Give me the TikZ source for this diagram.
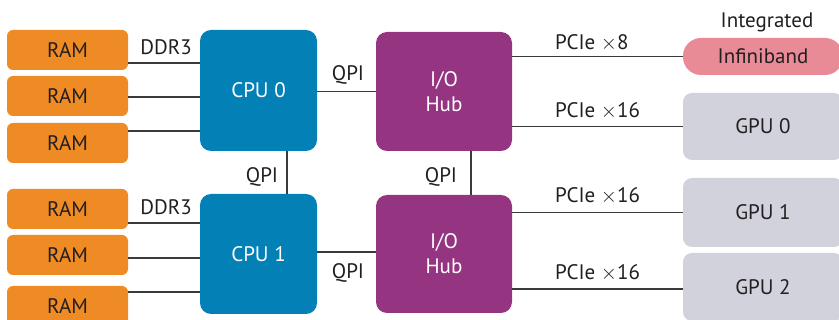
\documentclass[tikz,border=0pt]{standalone}
\usepackage{fontspec}
\setmainfont{PT Sans}
\definecolor{ramorange}{HTML}{EE8B25}
\definecolor{cpublue}{HTML}{0381B7}
\definecolor{hubpurple}{HTML}{953481}
\definecolor{ibpink}{HTML}{E98B97}
\definecolor{gpugray}{HTML}{D1D2DC}
\definecolor{textgray}{HTML}{231F20}
\definecolor{wiregray}{HTML}{3A3A3A}
\tikzset{
  box/.style={inner sep=0pt, align=center, font=\fontsize{21}{25}\selectfont},
  ram/.style={box, fill=ramorange, text=textgray, rounded corners=6pt,
    minimum width=121pt, minimum height=40pt},
  cpu/.style={box, fill=cpublue, text=white, rounded corners=11pt,
    minimum width=117pt, minimum height=121pt},
  hub/.style={box, fill=hubpurple, text=white, rounded corners=11pt,
    minimum width=136pt, minimum height=119pt},
  gpu/.style={box, fill=gpugray, text=textgray, rounded corners=9pt,
    minimum width=160pt, minimum height=68pt},
  ib/.style={box, fill=ibpink, text=textgray, rounded corners=18pt,
    minimum width=160pt, minimum height=37pt},
  wire/.style={draw=wiregray, line width=1.4pt},
  lbl/.style={inner sep=0pt, text=textgray, font=\fontsize{21}{22}\selectfont}
}
\begin{document}
\begin{tikzpicture}[x=1pt,y=-1pt]
  \useasboundingbox (0,0) rectangle (839,320);
  \clip (0,0) rectangle (839,320);

  % memory banks
  \node[ram] (ram1) at (67.5,50) {RAM};
  \node[ram] (ram2) at (67.5,96) {RAM};
  \node[ram] (ram3) at (67.5,143) {RAM};
  \node[ram] (ram4) at (67.5,209) {RAM};
  \node[ram] (ram5) at (67.5,255) {RAM};
  \node[ram] (ram6) at (67.5,306) {RAM};

  % processors and hubs
  \node[cpu] (cpu0) at (258.5,90.5) {CPU 0};
  \node[cpu, minimum height=120pt] (cpu1) at (258.5,254) {CPU 1};
  \node[hub] (hub0) at (444,91.5) {I/O\\Hub};
  \node[hub, minimum height=118pt] (hub1) at (444,254) {I/O\\Hub};

  % devices
  \node[ib] (ib) at (763,56.5) {Infiniband};
  \node[lbl] (integ) at (767,22) {Integrated};
  \node[gpu, minimum height=67pt] (gpu0) at (763,126.5) {GPU 0};
  \node[gpu, minimum height=69pt] (gpu1) at (763,212.5) {GPU 1};
  \node[gpu] (gpu2) at (763,287) {GPU 2};

  % DDR3 links
  \draw[wire] (ram1.east) ++(0,13) coordinate (m1) -- (m1 -| cpu0.west);
  \draw[wire] (ram2.east) ++(0,1) coordinate (m2) -- (m2 -| cpu0.west);
  \draw[wire] (ram3.east) ++(0,-12) coordinate (m3) -- (m3 -| cpu0.west);
  \draw[wire] (ram4.east) ++(0,14) coordinate (m4) -- (m4 -| cpu1.west);
  \draw[wire] (ram5.east) ++(0,3) coordinate (m5) -- (m5 -| cpu1.west);
  \draw[wire] (ram6.east) ++(0,-14) coordinate (m6) -- (m6 -| cpu1.west);
  \node[lbl] (ddr0) at (166,47) {DDR3};
  \node[lbl] (ddr1) at (166,207) {DDR3};

  % QPI links
  \draw[wire] (cpu0.south) ++(28.5,0) coordinate (q0) -- (q0 |- cpu1.north);
  \draw[wire] (hub0.south) ++(27,0) coordinate (q1) -- (q1 |- hub1.north);
  \draw[wire] (cpu0.east |- hub0.west) -- (hub0.west);
  \draw[wire] (cpu1.east) ++(0,-2) coordinate (q2) -- (q2 -| hub1.west);
  \node[lbl] (qpi0) at (262,177) {QPI};
  \node[lbl] (qpi1) at (441,177) {QPI};
  \node[lbl] (qpi2) at (348,75) {QPI};
  \node[lbl] (qpi3) at (348,273) {QPI};

  % PCIe links
  \draw[wire] (hub0.east |- ib.west) -- (ib.west);
  \draw[wire] (hub0.east |- gpu0.west) -- (gpu0.west);
  \draw[wire] (hub1.east |- gpu1.west) -- (gpu1.west);
  \draw[wire] (hub1.east) ++(0,35) coordinate (p3) -- (p3 -| gpu2.west);
  \node[lbl, anchor=west] (pcie0) at (555,43) {PCIe $\times$8};
  \node[lbl, anchor=west] (pcie1) at (555,111) {PCIe $\times$16};
  \node[lbl, anchor=west] (pcie2) at (555,196) {PCIe $\times$16};
  \node[lbl, anchor=west] (pcie3) at (555,273) {PCIe $\times$16};
\end{tikzpicture}
\end{document}
